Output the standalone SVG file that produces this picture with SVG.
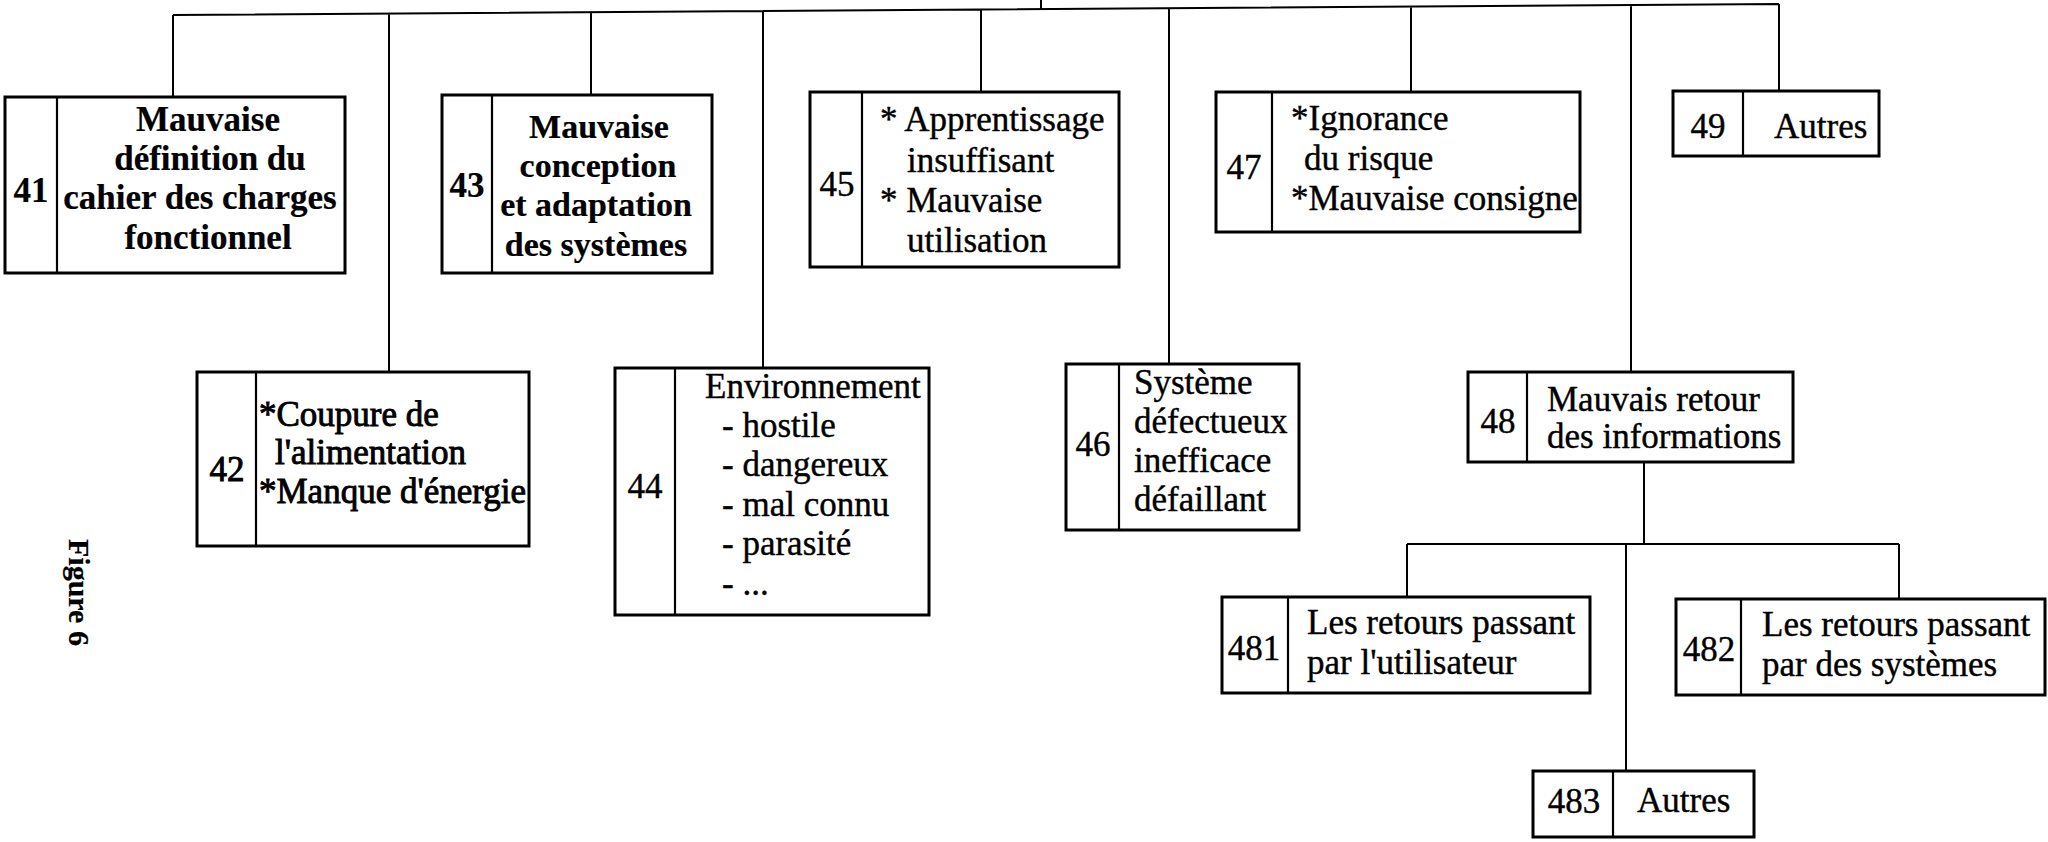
<svg xmlns="http://www.w3.org/2000/svg" width="2048" height="842" viewBox="0 0 2048 842">
<style>
.box{fill:#fff;stroke:#000;stroke-width:3}
.div{stroke:#000;stroke-width:2.2}
.con{stroke:#000;stroke-width:2;fill:none}
text{font-family:"Liberation Serif","Times New Roman",serif;font-size:35px;fill:#000;stroke:#000;stroke-width:0.4}
.b{font-weight:bold;stroke-width:0.2}
.b34{font-size:34px}
.h{stroke-width:0.9}
.m{text-anchor:middle}
</style>
<rect width="2048" height="842" fill="#fff"/>
<g id="connectors">
<path class="con" d="M1041 0V9M173 15L1779 4M173 15V97M389 13.5V372M591 12.1V95M763 11V368M981 9.5V92M1169 8.2V364M1411 6.5V92M1631 5V372M1779 4V91"/>
<path class="con" d="M1644 462V544M1407 544H1899M1407 544V597M1899 544V599M1626 544V771"/>
</g>
<g id="n41">
<rect class="box" x="5" y="97" width="340" height="176"/>
<line class="div" x1="57" y1="97" x2="57" y2="273"/>
<text class="b m" x="31" y="202">41</text>
<text class="b m" x="208" y="131">Mauvaise</text>
<text class="b m" x="210" y="170">définition du</text>
<text class="b m" x="200" y="209">cahier des charges</text>
<text class="b m" x="208" y="249">fonctionnel</text>
</g>
<g id="n42">
<rect class="box" x="197" y="372" width="332" height="174"/>
<line class="div" x1="256" y1="372" x2="256" y2="546"/>
<text class="h m" x="227" y="481">42</text>
<text class="h" x="259" y="426">*Coupure de</text>
<text class="h" x="275" y="464">l'alimentation</text>
<text class="h" x="259" y="503">*Manque d'énergie</text>
</g>
<g id="n43">
<rect class="box" x="442" y="95" width="270" height="178"/>
<line class="div" x1="492" y1="95" x2="492" y2="273"/>
<text class="b m" x="467" y="197">43</text>
<text class="b b34 m" x="599" y="138">Mauvaise</text>
<text class="b b34 m" x="598" y="177">conception</text>
<text class="b b34 m" x="596" y="216">et adaptation</text>
<text class="b b34 m" x="596" y="256">des systèmes</text>
</g>
<g id="n44">
<rect class="box" x="615" y="368" width="314" height="247"/>
<line class="div" x1="675" y1="368" x2="675" y2="615"/>
<text class="m" x="645" y="498">44</text>
<text x="705" y="398">Environnement</text>
<text x="722" y="437">- hostile</text>
<text x="722" y="476">- dangereux</text>
<text x="722" y="516">- mal connu</text>
<text x="722" y="555">- parasité</text>
<text x="722" y="595">- ...</text>
</g>
<g id="n45">
<rect class="box" x="810" y="92" width="309" height="175"/>
<line class="div" x1="862" y1="92" x2="862" y2="267"/>
<text class="m" x="837" y="196">45</text>
<text x="880" y="131">* Apprentissage</text>
<text x="907" y="172">insuffisant</text>
<text x="880" y="212">* Mauvaise</text>
<text x="907" y="252">utilisation</text>
</g>
<g id="n46">
<rect class="box" x="1066" y="364" width="233" height="166"/>
<line class="div" x1="1119" y1="364" x2="1119" y2="530"/>
<text class="m" x="1093" y="456">46</text>
<text x="1134" y="394">Système</text>
<text x="1134" y="433">défectueux</text>
<text x="1134" y="472">inefficace</text>
<text x="1134" y="511">défaillant</text>
</g>
<g id="n47">
<rect class="box" x="1216" y="92" width="364" height="140"/>
<line class="div" x1="1272" y1="92" x2="1272" y2="232"/>
<text class="m" x="1244" y="179">47</text>
<text x="1291" y="130">*Ignorance</text>
<text x="1304" y="170">du risque</text>
<text x="1291" y="210">*Mauvaise consigne</text>
</g>
<g id="n48">
<rect class="box" x="1468" y="372" width="325" height="90"/>
<line class="div" x1="1527" y1="372" x2="1527" y2="462"/>
<text class="m" x="1498" y="433">48</text>
<text x="1547" y="411">Mauvais retour</text>
<text x="1547" y="448">des informations</text>
</g>
<g id="n49">
<rect class="box" x="1673" y="91" width="206" height="65"/>
<line class="div" x1="1743" y1="91" x2="1743" y2="156"/>
<text class="m" x="1708" y="138">49</text>
<text x="1774" y="138">Autres</text>
</g>
<g id="n481">
<rect class="box" x="1222" y="597" width="368" height="96"/>
<line class="div" x1="1288" y1="597" x2="1288" y2="693"/>
<text class="m" x="1254" y="660">481</text>
<text x="1307" y="634">Les retours passant</text>
<text x="1307" y="674">par l'utilisateur</text>
</g>
<g id="n482">
<rect class="box" x="1676" y="599" width="369" height="96"/>
<line class="div" x1="1741" y1="599" x2="1741" y2="695"/>
<text class="m" x="1709" y="661">482</text>
<text x="1762" y="636">Les retours passant</text>
<text x="1762" y="676">par des systèmes</text>
</g>
<g id="n483">
<rect class="box" x="1533" y="771" width="221" height="66"/>
<line class="div" x1="1613" y1="771" x2="1613" y2="837"/>
<text class="m" x="1574" y="813">483</text>
<text x="1637" y="812">Autres</text>
</g>
<g id="caption">
<text class="b" style="font-size:30px" transform="translate(69 539) rotate(90)">Figure 6</text>
</g>
</svg>
